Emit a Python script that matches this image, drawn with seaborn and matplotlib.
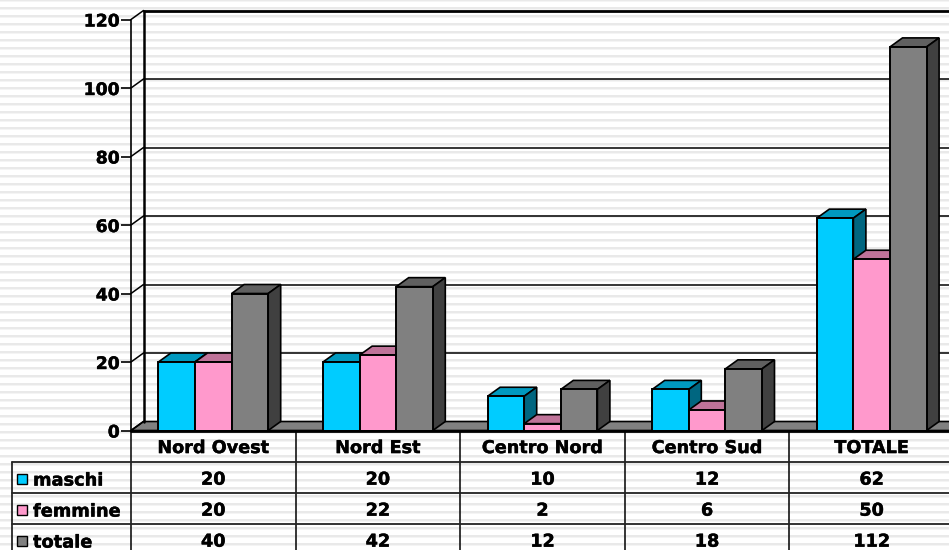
import numpy as np
import pandas as pd
import matplotlib
matplotlib.use('Agg')
import matplotlib.pyplot as plt
import matplotlib.patheffects as pe
from matplotlib.patches import Polygon, Rectangle
from matplotlib.colors import to_rgb
import seaborn as sns

categories = ['Nord Ovest', 'Nord Est', 'Centro Nord', 'Centro Sud', 'TOTALE']
maschi = [20, 20, 10, 12, 62]
femmine = [20, 22, 2, 6, 50]
totale = [40, 42, 12, 18, 112]
series_names = ['maschi', 'femmine', 'totale']
colors = ['#00ccff', '#ff99cc', '#808080']
y_ticks = [0, 20, 40, 60, 80, 100, 120]

W, H = 949, 550
# geometria in pixel
x_left, cat_w = 131, 164.6
y_zero, y_top = 430.5, 19.5
depth_x, depth_y = 12.5, 9.0
row_h, table_top = 31, 431

sns.set_theme(style='white')
plt.rcParams['font.family'] = ['DejaVu Sans']
plt.rcParams['font.weight'] = 'bold'
bold = [pe.withStroke(linewidth=0.3, foreground='black')]

df = pd.DataFrame({'regione': categories * 3,
                   'serie': np.repeat(series_names, 5),
                   'valore': maschi + femmine + totale})

fig = plt.figure(figsize=(W / 100, H / 100), dpi=100)

# sfondo a righe
bg = fig.add_axes([0, 0, 1, 1], zorder=0)
bg.set_xlim(0, W)
bg.set_ylim(H, 0)
bg.axis('off')
for yy in np.arange(-1, H, 8):
    bg.add_patch(Rectangle((0, yy), W, 3, color='#f4f4f4', lw=0))
    bg.add_patch(Rectangle((0, yy), W, 2, color='#e9e9e9', lw=0))

ax = fig.add_axes([x_left / W, 1 - y_zero / H, 5 * cat_w / W, (y_zero - y_top) / H], zorder=2)
ax.patch.set_alpha(0)
sns.barplot(data=df, x='regione', y='valore', hue='serie', order=categories,
            hue_order=series_names, palette=colors, saturation=1, width=0.667,
            gap=0, edgecolor='black', linewidth=1.4, legend=False, ax=ax, zorder=5)
ax.set_xlim(-0.5, 4.5)
ax.set_ylim(0, 120)
ax.set_xlabel('')
ax.set_ylabel('')
ax.set_xticks([])
for s in ['top', 'right', 'bottom']:
    ax.spines[s].set_visible(False)
ax.spines['left'].set_color('black')
ax.spines['left'].set_linewidth(1.2)
ax.set_yticks(y_ticks)
ax.tick_params(axis='y', length=7, width=1.2, color='black', labelcolor='black', left=True, pad=1, labelsize=12.4)
for lab in ax.get_yticklabels():
    lab.set_path_effects(bold)

dx = depth_x / cat_w
dy = depth_y * 120 / (y_zero - y_top)


def shade(col, k):
    return tuple(c * k for c in to_rgb(col))


# pavimento e pareti
ax.add_patch(Polygon([(-0.5, 0), (-0.5 + dx, dy), (4.6, dy), (4.6, 0)], closed=True,
                     fc='#808080', ec='black', lw=1.2, zorder=1, clip_on=False))
ax.plot([-0.5 + dx, -0.5 + dx], [dy, 120 + dy], color='black', lw=1.8, zorder=2, clip_on=False)
for t in y_ticks:
    ax.plot([-0.5, -0.5 + dx], [t, t + dy], color='black', lw=1.1, zorder=2, clip_on=False)
    if t > 0:
        ax.plot([-0.5 + dx, 4.6], [t + dy, t + dy], color='black', lw=2 if t == 120 else 1.1,
                zorder=2, clip_on=False)
ax.plot([-0.5, 4.6], [0, 0], color='black', lw=2, zorder=8, clip_on=False)

# facce superiori e laterali delle barre
for cont, col in zip(ax.containers, colors):
    for bar in cont:
        x0, w, h = bar.get_x(), bar.get_width(), bar.get_height()
        top = [(x0, h), (x0 + dx, h + dy), (x0 + w + dx, h + dy), (x0 + w, h)]
        side = [(x0 + w, 0), (x0 + w + dx, dy), (x0 + w + dx, h + dy), (x0 + w, h)]
        ax.add_patch(Polygon(top, closed=True, fc=shade(col, 0.75), ec='black', lw=1.2, zorder=4))
        ax.add_patch(Polygon(side, closed=True, fc=shade(col, 0.5), ec='black', lw=1.2, zorder=4))

# tabella dati
tb = fig.add_axes([x_left / W, 1 - (table_top + 4 * row_h) / H, 5 * cat_w / W, 4 * row_h / H], zorder=3)
tb.patch.set_alpha(0)
tb.set_xlim(-0.5, 4.5)
tb.set_ylim(4, 0)
tb.axis('off')
left_x = -0.5 - (x_left - 12) / cat_w
for i in range(6):
    tb.plot([i - 0.5, i - 0.5], [0, 4], color='black', lw=1.1, clip_on=False)
tb.plot([left_x, left_x], [1, 4], color='black', lw=1.1, clip_on=False)
for r in [1, 2, 3]:
    tb.plot([left_x, 4.6], [r, r], color='#222222', lw=1.3, clip_on=False)
for i, c in enumerate(categories):
    tb.text(i, 0.55, c, ha='center', va='center', fontsize=12.7, color='black', path_effects=bold)
key_x = -0.5 - (x_left - 17) / cat_w
key_w, key_h = 10 / cat_w, 10 / row_h
lab_x = -0.5 - (x_left - 33) / cat_w
for r, (name, vals, col) in enumerate(zip(series_names, [maschi, femmine, totale], colors), start=1):
    tb.add_patch(Rectangle((key_x, r + 0.55 - key_h / 2), key_w, key_h, fc=col, ec='black', lw=1, clip_on=False))
    tb.text(lab_x, r + 0.6, name, ha='left', va='center', fontsize=12.8, color='black', clip_on=False,
            path_effects=bold)
    for i, v in enumerate(vals):
        tb.text(i, r + 0.57, str(v), ha='center', va='center', fontsize=12.7, color='black', path_effects=bold)

fig.savefig('out.png', dpi=100)
